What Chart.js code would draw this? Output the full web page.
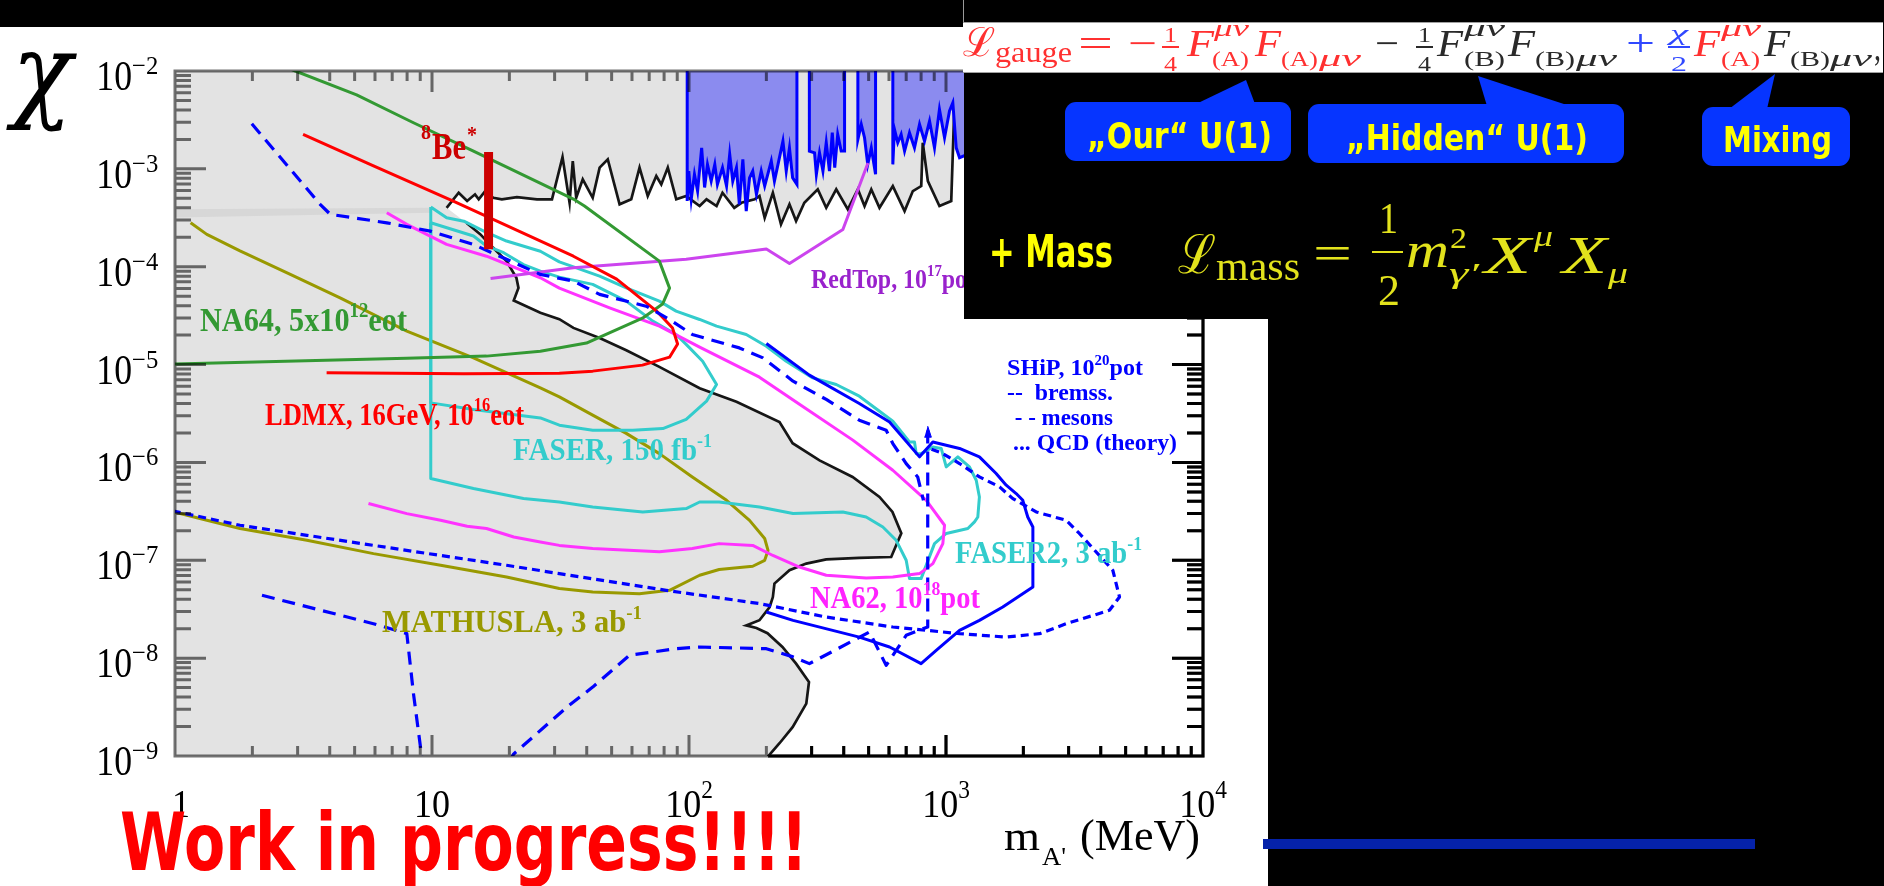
<!DOCTYPE html>
<html>
<head>
<meta charset="utf-8">
<script src="https://cdn.jsdelivr.net/npm/chart.js@4.4.0/dist/chart.umd.min.js"></script>
<style>
  html, body { margin: 0; padding: 0; background: #000; width: 1884px; height: 886px; overflow: hidden; }
  #page { position: relative; width: 1884px; height: 886px; }
  #sheet { position: absolute; left: 0; top: 27px; width: 1268px; height: 859px; background: #fff; z-index: 0; }
  #plot { position: absolute; left: 0; top: 0; z-index: 1; }
  #panel { position: absolute; left: 964px; top: 0; width: 920px; height: 319px; background: #000; z-index: 2; }
  #edge { position: absolute; left: 963px; top: 0; width: 1px; height: 22px; background: #9a9a9a; z-index: 3; }
  #strip { position: absolute; left: 963px; top: 22px; width: 920px; height: 51px; background: #fff;
           border-top: 1px solid #a0a0a0; border-bottom: 1px solid #a0a0a0; box-sizing: border-box; z-index: 3; }
  #bubbles { position: absolute; left: 0; top: 0; z-index: 3; }
  #bar { position: absolute; left: 1263px; top: 839px; width: 492px; height: 10px; background: #0522aa; z-index: 3; }
  #layer { position: absolute; left: 0; top: 0; width: 1884px; height: 886px; z-index: 4; }
  .fracbar { position: absolute; height: 2px; }
</style>
</head>
<body>
<div id="page">
  <div id="sheet"></div>
  <canvas id="plot" width="1884" height="886"></canvas>
  <div id="panel"></div>
  <div id="edge"></div>
  <div id="strip"></div>
  <svg id="bubbles" width="1884" height="886">
    <g fill="#0635ff">
      <rect x="1065" y="102" width="226" height="59" rx="11"/>
      <polygon points="1196,104 1255,104 1246,80"/>
      <rect x="1308" y="104" width="316" height="59" rx="11"/>
      <polygon points="1487,106 1570,106 1478,76"/>
      <rect x="1702" y="107" width="148" height="59" rx="11"/>
      <polygon points="1729,109 1767,109 1775,74"/>
    </g>
  </svg>
  <div id="bar"></div>
  <div id="layer"></div>
</div>
<script>
// ---------- axis ticks ----------
const massDecades = [1, 10, 100, 1000, 10000];
const massTickLabels = [['1', ''], ['10', ''], ['10', '2'], ['10', '3'], ['10', '4']];
const chiDecades = [1e-2, 1e-3, 1e-4, 1e-5, 1e-6, 1e-7, 1e-8, 1e-9];
const chiTickLabels = ['\u22122', '\u22123', '\u22124', '\u22125', '\u22126', '\u22127', '\u22128', '\u22129'];

// ---------- regions and curves: [mass (MeV), chi] ----------
// allowed (white) window between the upper exclusion and the beam-dump limits
const allowedWindow = [
  [11.4,4.00e-4],[12.7,5.70e-4],[13.7,4.69e-4],[14.7,5.49e-4],[15.2,4.88e-4],[16.1,5.93e-4],
  [17.3,5.06e-4],[18.7,4.88e-4],[21.4,5.15e-4],[25.6,4.88e-4],[29.3,4.88e-4],[32.2,1.32e-3],
  [34.3,4.50e-4],[35.3,1.20e-3],[36.4,5.06e-4],[38.6,7.81e-4],[42.2,5.06e-4],[44.9,1.03e-3],
  [48.3,1.25e-3],[53.7,4.34e-4],[59.6,4.88e-4],[64.2,1.03e-3],[69.1,5.27e-4],[74.6,8.44e-4],
  [78.0,6.94e-4],[82.7,1.03e-3],[89.2,4.88e-4],[97.5,5.27e-4],[110,4.17e-4],[117,4.88e-4],
  [128,4.17e-4],[135,5.70e-4],[150,4.00e-4],[160,4.50e-4],[180,4.88e-4],[188,5.27e-4],
  [197,3.16e-4],[212,5.70e-4],[228,2.71e-4],[246,4.34e-4],[261,2.93e-4],[281,4.50e-4],
  [317,6.17e-4],[342,4.00e-4],[374,6.17e-4],[415,3.85e-4],[454,6.17e-4],[482,4.17e-4],
  [512,6.17e-4],[551,4.00e-4],[621,6.67e-4],[690,3.70e-4],[743,5.93e-4],[801,6.67e-4],
  [812,1.85e-3],[850,7.50e-4],[943,4.17e-4],[1048,4.69e-4],[1079,4.74e-3],[1129,2.08e-3],
  [1413,1.23e-3],[2312,8.65e-4],[3960,7.68e-4],[10600,6.82e-4],[10600,5e-10],[203,5e-10],
  [203,9.9e-10],[225,1.35e-9],[253,1.97e-9],[286,3.43e-9],[293,5.70e-9],[261,8.79e-9],
  [231,1.30e-8],[202,1.80e-8],[183,2.03e-8],[167,2.16e-8],[188,2.44e-8],[206,3.33e-8],
  [212,4.21e-8],[215,5.78e-8],[246,7.91e-8],[286,9.25e-8],[342,1.02e-7],[460,1.06e-7],
  [612,1.08e-7],[670,1.89e-7],[619,3.12e-7],[551,4.44e-7],[433,7.11e-7],[322,1.05e-6],
  [253,1.57e-6],[225,2.59e-6],[153,4.16e-6],[110,5.74e-6],[76.7,9.48e-6],[57.0,1.40e-5],
  [44.9,1.87e-5],[35.5,2.37e-5],[31.3,2.91e-5],[26.4,3.38e-5],[20.8,4.52e-5],[21.7,6.08e-5],
  [21.3,7.70e-5],[19.5,1.14e-4],[17.3,1.56e-4],[15.4,2.15e-4],[13.6,2.81e-4]
];
const faintBand = [[0.9,3.85e-4],[9.89,4.0e-4],[9.89,3.56e-4],[0.9,3.16e-4]];
const blueExcluded = [
  [98.4,2e-2],[98.4,4.69e-4],[99.8,9.5e-4],[102,4.88e-4],[105,8.79e-4],[108,5.93e-4],[112,1.64e-3],
  [115,6.45e-4],[118,1.11e-3],[122,7.50e-4],[126,1.11e-3],[129,6.94e-4],[135,1.03e-3],[140,6.67e-4],
  [144,1.41e-3],[148,7.50e-4],[153,1.03e-3],[157,4.34e-4],[162,1.25e-3],[167,3.70e-4],[172,8.10e-4],
  [177,9.50e-4],[183,5.49e-4],[191,9.50e-4],[197,6.67e-4],[209,1.20e-3],[215,7.50e-4],[222,1.11e-3],
  [232,1.92e-3],[239,9.50e-4],[246,1.64e-3],[253,8.10e-4],[263,6.94e-4],[263,2e-2],
  [294,2e-2],[294,1.52e-3],[308,1.46e-3],[313,8.79e-4],[322,1.46e-3],[332,9.50e-4],[342,1.85e-3],
  [352,9.50e-4],[361,2.34e-3],[369,1.03e-3],[379,2.25e-3],[391,1.52e-3],[403,1.52e-3],[403,2e-2],
  [454,2e-2],[454,2.00e-3],[468,2.85e-3],[482,2.08e-3],[496,1.11e-3],[512,1.64e-3],[532,8.79e-4],[532,2e-2],
  [621,2e-2],[621,1.11e-3],[630,2.54e-3],[649,1.85e-3],[669,2.25e-3],[690,1.52e-3],[721,2.34e-3],
  [754,1.64e-3],[789,2.85e-3],[825,1.92e-3],[863,3.08e-3],[902,1.64e-3],[943,4.06e-3],[987,2.08e-3],
  [1032,3.90e-3],[1063,4.74e-3],[1096,1.64e-3],[1129,1.30e-3],[1600,1.9e-3],[2600,1.3e-3],
  [4500,2.2e-3],[10600,1.6e-3],[10600,2e-2]
];
const na64 = [
  [1.95,1.53e-2],[2.94,1e-2],[5.09,5.69e-3],[8.47,2.96e-3],[14.5,1.52e-3],[35.5,4.91e-4],[39.2,4.17e-4],
  [76.7,1.14e-4],[84.0,6.04e-5],[78.9,4.15e-5],[65.9,2.98e-5],[39.9,1.66e-5],[26.4,1.37e-5],
  [16.3,1.22e-5],[7.96,1.16e-5],[0.98,1.01e-5]
];
const ldmx = [
  [3.15,2.25e-3],[5.92,1.07e-3],[12.1,4.69e-4],[35.5,1.28e-4],[52.3,7.46e-5],[74.8,3.52e-5],
  [86.3,2.36e-5],[90.3,1.62e-5],[84.0,1.19e-5],[65.9,9.87e-6],[42.2,8.57e-6],[31.3,8.17e-6],
  [13.3,8.04e-6],[3.89,8.23e-6]
];
const be8 = [[16.6,1.51e-4],[16.6,1.49e-3]];
const mathusla = [
  [1.15,2.81e-4],[1.33,2.14e-4],[1.79,1.45e-4],[2.81,8.34e-5],[4.39,4.81e-5],[7.98,2.20e-5],
  [14.5,1.17e-5],[26.4,5.78e-6],[31.3,4.68e-6],[42.2,3.04e-6],[57.0,1.98e-6],[76.7,1.23e-6],
  [103,7.11e-7],[140,4.10e-7],[172,2.56e-7],[197,1.67e-7],[203,1.26e-7],[197,1.00e-7],[177,8.69e-8],
  [131,8.04e-8],[110,7.03e-8],[84.0,4.93e-8],[64.1,4.56e-8],[42.2,4.74e-8],[31.3,5.14e-8],
  [19.5,6.75e-8],[10.8,8.89e-8],[5.92,1.17e-7],[3.26,1.60e-7],[1.79,2.11e-7],[1.25,2.67e-7],[0.986,3.12e-7]
];
const faser2 = [
  [9.89,4.07e-4],[11.4,3.16e-4],[13.3,2.92e-4],[15.9,2.31e-4],[19.5,1.83e-4],[26.4,1.44e-4],
  [31.3,1.12e-4],[44.9,8.01e-5],[57.0,6.08e-5],[76.7,4.45e-5],[89.1,3.52e-5],[110,2.89e-5],
  [128,2.47e-5],[167,2.03e-5],[200,1.54e-5],[239,1.08e-5],[303,7.31e-6],[374,6.26e-6],
  [460,4.75e-6],[551,3.34e-6],[621,2.64e-6],[721,1.62e-6],[754,1.62e-6],[766,1.23e-6],
  [801,1.23e-6],[889,1.44e-6],[958,1.39e-6],[1002,9.00e-7],[1112,1.14e-6],[1234,9.00e-7],
  [1311,6.58e-7],[1349,4.44e-7],[1330,2.77e-7],[1291,2.47e-7],[1216,2.11e-7],[1002,1.88e-7],
  [902,1.48e-7],[800,6.50e-8],[721,6.50e-8],[700,1.00e-7],[640,1.60e-7],[568,2.19e-7],
  [489,2.77e-7],[397,3.12e-7],[254,3.00e-7],[188,3.51e-7],[131,3.94e-7],[110,3.94e-7],
  [97.5,3.38e-7],[66.1,3.12e-7],[42.2,3.51e-7],[31.3,3.94e-7],[22.7,4.27e-7],[14.5,5.41e-7],
  [9.89,6.84e-7],[9.89,4.07e-4]
];
const faser = [
  [9.89,2.81e-4],[14.5,2.06e-4],[16.3,1.63e-4],[19.0,1.39e-4],[22.7,1.05e-4],[26.4,9.01e-5],
  [31.3,7.83e-5],[42.2,6.60e-5],[57.0,4.45e-5],[72.3,2.78e-5],[89.1,2.03e-5],[97.5,1.61e-5],
  [113,1.08e-5],[128,6.26e-6],[117,4.23e-6],[97.5,2.75e-6],[79.1,2.22e-6],[60.4,2.13e-6],
  [42.2,2.13e-6],[31.3,2.40e-6],[26.4,2.85e-6],[14.5,3.48e-6],[9.89,4.06e-6],[9.89,2.81e-4]
];
const na62 = [
  [6.67,3.56e-4],[7.98,2.71e-4],[11.4,1.69e-4],[16.3,1.28e-4],[26.4,7.71e-5],[31.3,6.04e-5],
  [49.1,3.80e-5],[76.7,2.47e-5],[110,1.51e-5],[188,7.43e-6],[269,3.94e-6],[434,1.69e-6],
  [621,8.32e-7],[838,4.10e-7],[987,2.28e-7],[972,1.48e-7],[889,9.25e-8],[789,7.31e-8],
  [621,6.75e-8],[489,6.59e-8],[342,7.03e-8],[269,8.53e-8],[212,1.12e-7],[177,1.42e-7],
  [131,1.48e-7],[103,1.32e-7],[76.7,1.22e-7],[42.2,1.32e-7],[31.3,1.42e-7],[26.4,1.54e-7],
  [20.8,1.73e-7],[16.3,2.11e-7],[13.7,2.23e-7],[10.8,2.56e-7],[7.98,3.00e-7],[5.66,3.80e-7]
];
const redTop = [[16.9,7.59e-5],[35.5,9.75e-5],[97.5,1.19e-4],[200,1.52e-4],[246,1.08e-4],[397,2.40e-4],[497,1.15e-3]];
const shipBremss = [
  [200,1.64e-5],[294,7.80e-6],[460,4.00e-6],[603,2.59e-6],[789,1.14e-6],[889,1.62e-6],[1129,1.39e-6],
  [1349,1.14e-6],[1567,7.71e-7],[1715,5.85e-7],[1875,4.81e-7],[1990,4.10e-7],[2080,2.77e-7],
  [2178,2.19e-7],[2178,5.33e-8],[1663,3.33e-8],[1349,2.43e-8],[1129,1.92e-8],[916,1.20e-8],
  [800,8.79e-9],[603,1.30e-8],[460,1.64e-8],[254,2.43e-8],[200,2.96e-8]
];
const shipMesonsUpper = [
  [1.99,2.89e-3],[3.67,4.34e-4],[4.02,3.43e-4],[6.67,2.81e-4],[9.84,2.31e-4],[14.5,1.69e-4],
  [19.5,1.19e-4],[26.4,8.34e-5],[35.5,7.13e-5],[44.9,5.21e-5],[68.1,3.95e-5],[84.0,2.89e-5],
  [103,2.03e-5],[157,1.48e-5],[194,1.17e-5],[254,6.77e-6],[342,4.40e-6],[460,2.70e-6],
  [585,2.13e-6],[621,1.56e-6],[700,9.73e-7],[776,7.11e-7],[817,4.10e-7]
];
const shipMesonsLeft = [[2.18,4.39e-8],[5.92,2.25e-8],[7.98,1.78e-8],[8.10,1.25e-8],[8.47,4.34e-9],[9.12,9.9e-10],[9.3,6e-10]];
const shipMesonsLower = [
  [19.9,8.6e-10],[20.8,1.05e-9],[33.5,3.16e-9],[42.2,5.06e-9],[58.7,1.07e-8],[89.1,1.25e-8],
  [110,1.30e-8],[200,1.25e-8],[254,1.03e-8],[294,8.79e-9],[504,1.85e-8],[585,8.43e-9],
  [700,1.71e-8],[812,2.00e-8],[849,2.08e-8],[849,2.13e-6]
];
const shipArrow = [[824,1.81e-6],[877,1.81e-6],[849,2.35e-6]];
const shipQCD = [
  [0.98,3.2e-7],[1.79,2.28e-7],[3.26,1.80e-7],[5.92,1.42e-7],[10.8,1.12e-7],[19.5,8.89e-8],
  [31.3,7.31e-8],[81.5,4.93e-8],[188,3.61e-8],[342,2.63e-8],[621,2.08e-8],[1129,1.78e-8],
  [1715,1.64e-8],[2312,1.78e-8],[2938,2.25e-8],[4326,3.08e-8],[4733,4.22e-8],[4457,7.91e-8],
  [3304,1.88e-7],[2938,2.56e-7],[2244,3.12e-7],[1820,4.27e-7],[1616,5.62e-7],[1349,7.11e-7],
  [1129,9.75e-7],[973,1.23e-6],[862,1.39e-6]
];

const pts = arr => arr.map(([x, y]) => ({x, y}));

// drawn bottom to top
const layers = [
  {data: pts(allowedWindow), fill: 'shape', backgroundColor: '#ffffff', borderColor: '#161616', borderWidth: 2.7, borderJoinStyle: 'miter'},
  {data: pts(faintBand), fill: 'shape', backgroundColor: '#d7d7d7', borderColor: 'rgba(0,0,0,0)', borderWidth: 0},
  {data: pts(blueExcluded), fill: 'shape', backgroundColor: '#8b8bef', borderColor: '#0000ff', borderWidth: 3, borderJoinStyle: 'miter'},
  {data: pts(mathusla), borderColor: '#999900', borderWidth: 3},
  {data: pts(faser2), borderColor: '#33cccc', borderWidth: 3},
  {data: pts(faser), borderColor: '#33cccc', borderWidth: 3},
  {data: pts(na62), borderColor: '#ff33ff', borderWidth: 3},
  {data: pts(redTop), borderColor: '#cc44ee', borderWidth: 3},
  {data: pts(na64), borderColor: '#339933', borderWidth: 3},
  {data: pts(ldmx), borderColor: '#ff0000', borderWidth: 3},
  {data: pts(shipBremss), borderColor: '#0000ff', borderWidth: 3},
  {data: pts(shipMesonsUpper), borderColor: '#0000ff', borderWidth: 3.2, borderDash: [13, 8]},
  {data: pts(shipMesonsLeft), borderColor: '#0000ff', borderWidth: 3.2, borderDash: [13, 8]},
  {data: pts(shipMesonsLower), borderColor: '#0000ff', borderWidth: 3.2, borderDash: [13, 8]},
  {data: pts(shipArrow), fill: 'shape', backgroundColor: '#0000ff', borderColor: '#0000ff', borderWidth: 1},
  {data: pts(shipQCD), borderColor: '#0000ff', borderWidth: 3.2, borderDash: [8, 5]},
  {data: pts(be8), borderColor: '#cc0000', borderWidth: 9, borderCapStyle: 'butt'}
];
const datasets = layers.map((d, i) => Object.assign({
  showLine: true, pointRadius: 0, pointHoverRadius: 0, tension: 0, fill: false,
  clip: 0, borderJoinStyle: 'round', order: layers.length - i
}, d));

const SERIF = '"Liberation Serif", "Times New Roman", serif';
const GREEK = '"DejaVu Serif", "Liberation Serif", serif';

function drawRich(ctx, parts, x, base, size, color, o) {
  o = o || {};
  const fam = o.family || SERIF;
  const pre = (o.italic ? 'italic ' : '') + (o.bold ? 'bold ' : '');
  const supSize = size * (o.supScale || 0.62);
  const raise = size * (o.raise || 0.43);
  const widths = [];
  let w = 0;
  parts.forEach(([t, k]) => {
    ctx.font = pre + (k ? supSize : size) + 'px ' + fam;
    const m = ctx.measureText(t).width;
    widths.push(m); w += m;
  });
  let sx = o.scale || 1;
  if (o.x1) sx = (o.x1 - x) / w;
  let x0 = x;
  if (o.align === 'center') x0 = x - w * sx / 2;
  if (o.align === 'right') x0 = x - w * sx;
  ctx.save();
  ctx.fillStyle = color;
  ctx.textAlign = 'left';
  ctx.textBaseline = 'alphabetic';
  ctx.translate(x0, 0);
  ctx.scale(sx, 1);
  let cx = 0;
  parts.forEach(([t, k], i) => {
    ctx.font = pre + (k ? supSize : size) + 'px ' + fam;
    const yy = k === 1 ? base - raise : (k === 2 ? base + size * 0.3 : base);
    ctx.fillText(t, cx, yy);
    cx += widths[i];
  });
  ctx.restore();
}

const seriesLabels = [
  // parts, left, right, baseline, size, colour
  [[['NA64, 5x10', 0], ['12', 1], ['eot', 0]], 200, 407, 331, 33, '#339933'],
  [[['LDMX, 16GeV, 10', 0], ['16', 1], ['eot', 0]], 265, 524, 425, 32, '#ff0000'],
  [[['FASER, 150 fb', 0], ['-1', 1]], 513, 712, 460, 31, '#33cccc'],
  [[['MATHUSLA, 3 ab', 0], ['-1', 1]], 382, 642, 632, 31, '#999900'],
  [[['NA62, 10', 0], ['18', 1], ['pot', 0]], 810, 980, 608, 31, '#ff22ff'],
  [[['FASER2, 3 ab', 0], ['-1', 1]], 955, 1142, 563, 31, '#33cccc'],
  [[['RedTop, 10', 0], ['17', 1], ['pot', 0]], 811, 975, 288, 27, '#9922cc'],
  [[['SHiP, 10', 0], ['20', 1], ['pot', 0]], 1007, 1143, 375, 23, '#0000ff'],
  [[['--  bremss.', 0]], 1007, 1113, 400, 23, '#0000ff'],
  [[[' - - mesons', 0]], 1009, 1113, 425, 23, '#0000ff'],
  [[['... QCD (theory)', 0]], 1013, 1177, 450, 23, '#0000ff']
];

const frameTicks = {
  id: 'frameTicks',
  beforeDatasetsDraw(chart) {
    const {ctx, chartArea: a} = chart;
    ctx.save();
    ctx.fillStyle = '#e3e3e3';
    ctx.fillRect(a.left, a.top, a.right - a.left, a.bottom - a.top);
    ctx.restore();
  },
  afterDatasetsDraw(chart) {
    const {ctx, chartArea: a, scales: {x, y}} = chart;
    const p = new Path2D();
    p.rect(a.left, a.top, a.right - a.left, a.bottom - a.top);
    for (let i = 0; i < massDecades.length; i++) {
      const d = massDecades[i];
      const px = x.getPixelForValue(d);
      p.moveTo(px, a.top); p.lineTo(px, a.top + 21);
      p.moveTo(px, a.bottom); p.lineTo(px, a.bottom - 21);
      if (i < massDecades.length - 1) {
        for (let k = 2; k <= 9; k++) {
          const q = x.getPixelForValue(k * d);
          p.moveTo(q, a.top); p.lineTo(q, a.top + 10);
          p.moveTo(q, a.bottom); p.lineTo(q, a.bottom - 10);
        }
      }
    }
    for (let i = 0; i < chiDecades.length; i++) {
      const d = chiDecades[i];
      const py = y.getPixelForValue(d);
      p.moveTo(a.left, py); p.lineTo(a.left + 31, py);
      p.moveTo(a.right, py); p.lineTo(a.right - 31, py);
      if (i > 0) {
        for (let k = 2; k <= 9; k++) {
          const q = y.getPixelForValue(k * d);
          p.moveTo(a.left, q); p.lineTo(a.left + 16, q);
          p.moveTo(a.right, q); p.lineTo(a.right - 16, q);
        }
      }
    }
    ctx.save();
    ctx.lineWidth = 3;
    ctx.strokeStyle = 'rgba(0,0,0,0.55)';
    ctx.stroke(p);
    const win = new Path2D();
    allowedWindow.forEach(([m, c], i) => {
      const px = x.getPixelForValue(m), py = y.getPixelForValue(c);
      if (i) win.lineTo(px, py); else win.moveTo(px, py);
    });
    win.closePath();
    ctx.clip(win);
    ctx.strokeStyle = '#000';
    ctx.stroke(p);
    ctx.restore();
  },
  afterDraw(chart) {
    const {ctx, scales: {x, y}} = chart;
    // tick labels
    chiDecades.forEach((d, i) => {
      const py = y.getPixelForValue(d);
      drawRich(ctx, [['10', 0]], 132, py + 19, 42, '#000', {align: 'right', scale: 0.85});
      drawRich(ctx, [[chiTickLabels[i], 0]], 132, py + 3, 26, '#000', {scale: 0.95});
    });
    massDecades.forEach((d, i) => {
      const px = x.getPixelForValue(d);
      const [b, e] = massTickLabels[i];
      const parts = e ? [[b, 0], [e, 1]] : [[b, 0]];
      drawRich(ctx, parts, i === 0 ? px + 6 : px, 817, 40, '#000', {align: 'center', scale: 0.9, raise: 0.48, supScale: 0.65});
    });
    // axis titles
    drawRich(ctx, [['\u03c7', 0]], 12, 108, 104, '#000', {italic: true, family: GREEK, x1: 72});
    drawRich(ctx, [['m', 0]], 1004, 850, 42, '#000', {x1: 1040});
    drawRich(ctx, [['A\'', 0]], 1042, 865, 26, '#000', {x1: 1066});
    drawRich(ctx, [['(MeV)', 0]], 1080, 850, 44, '#000', {x1: 1200});
    // curve labels
    seriesLabels.forEach(([parts, x0, x1, base, size, color]) => {
      drawRich(ctx, parts, x0, base, size, color, {bold: true, x1: x1});
    });
    drawRich(ctx, [['8', 0]], 421, 139, 21, '#cc0000', {bold: true, x1: 431});
    drawRich(ctx, [['Be', 0]], 432, 159, 38, '#cc0000', {bold: true, x1: 466});
    drawRich(ctx, [['*', 0]], 467, 142, 24, '#cc0000', {bold: true, x1: 477});
  }
};

new Chart(document.getElementById('plot'), {
  type: 'scatter',
  data: {datasets},
  options: {
    responsive: false,
    animation: false,
    devicePixelRatio: 1,
    events: [],
    layout: {padding: {left: 175, top: 71, right: 681, bottom: 130}},
    scales: {
      x: {type: 'logarithmic', min: 1, max: 10000, display: false},
      y: {type: 'logarithmic', min: 1e-9, max: 1e-2, display: false}
    },
    plugins: {legend: {display: false}, tooltip: {enabled: false}}
  },
  plugins: [frameTicks]
});

// ---------- Lagrangian panel ----------
const layer = document.getElementById('layer');
const COMIC = '"DejaVu Sans", "Liberation Sans", sans-serif';
function put(text, x0, x1, base, size, color, o) {
  o = o || {};
  const s = document.createElement('span');
  s.style.cssText = 'position:absolute;left:' + x0 + 'px;top:0;white-space:nowrap;line-height:1;' +
    'font-size:' + size + 'px;color:' + color + ';font-family:' + (o.fam || SERIF) + ';' +
    'font-style:' + (o.it ? 'italic' : 'normal') + ';font-weight:' + (o.b ? 'bold' : 'normal') + ';transform-origin:0 0;';
  s.textContent = text;
  const probe = document.createElement('i');
  probe.style.cssText = 'display:inline-block;width:0;height:0;vertical-align:baseline;';
  s.appendChild(probe);
  layer.appendChild(s);
  s.style.top = (base - probe.offsetTop) + 'px';
  if (x1) {
    const w = s.getBoundingClientRect().width;
    s.style.transform = 'scaleX(' + ((x1 - x0) / w) + ')';
  }
}
function fracBar(x0, x1, y, color) {
  const b = document.createElement('div');
  b.className = 'fracbar';
  b.style.left = x0 + 'px'; b.style.width = (x1 - x0) + 'px'; b.style.top = y + 'px'; b.style.background = color;
  layer.appendChild(b);
}
const RED = '#ff3030', DARK = '#2a2a2a', BLUE = '#3048ff', YEL = '#e2e21c';
const gaugeTokens = [
  ['\u2112', 963, 995, 56, 40, RED, 0], ['gauge', 995, 1072, 62, 30, RED, 0],
  ['=', 1078, 1113, 56, 38, RED, 0], ['\u2212', 1128, 1157, 56, 38, RED, 0],
  ['1', 1164, 1177, 42, 22, RED, 0], ['4', 1164, 1177, 71, 22, RED, 0],
  ['F', 1187, 1214, 56, 38, RED, 1], ['\u03bc\u03bd', 1214, 1249, 36, 24, RED, 1], ['(A)', 1212, 1249, 66, 21, RED, 0],
  ['F', 1255, 1281, 56, 38, RED, 1], ['(A)', 1281, 1318, 66, 21, RED, 0], ['\u03bc\u03bd', 1319, 1361, 66, 24, RED, 1],
  ['\u2212', 1375, 1399, 56, 38, DARK, 0],
  ['1', 1418, 1431, 42, 22, DARK, 0], ['4', 1418, 1431, 71, 22, DARK, 0],
  ['F', 1437, 1463, 56, 38, DARK, 1], ['\u03bc\u03bd', 1464, 1505, 36, 24, DARK, 1], ['(B)', 1464, 1505, 66, 21, DARK, 0],
  ['F', 1508, 1535, 56, 38, DARK, 1], ['(B)', 1535, 1575, 66, 21, DARK, 0], ['\u03bc\u03bd', 1576, 1617, 66, 24, DARK, 1],
  ['+', 1626, 1655, 56, 38, BLUE, 0],
  ['\u03c7', 1670, 1688, 40, 22, BLUE, 1], ['2', 1671, 1687, 71, 22, BLUE, 0],
  ['F', 1694, 1720, 56, 38, RED, 1], ['\u03bc\u03bd', 1721, 1761, 36, 24, RED, 1], ['(A)', 1721, 1760, 66, 21, RED, 0],
  ['F', 1764, 1790, 56, 38, DARK, 1], ['(B)', 1790, 1830, 66, 21, DARK, 0], ['\u03bc\u03bd', 1830, 1872, 66, 24, DARK, 1],
  [',', 1874, 1881, 60, 38, DARK, 0]
];
const massTokens = [
  ['\u2112', 1178, 1216, 273, 54, YEL, 0], ['mass', 1216, 1300, 280, 40, YEL, 0],
  ['=', 1313, 1352, 270, 50, YEL, 0],
  ['1', 1379, 1398, 233, 44, YEL, 0], ['2', 1378, 1400, 305, 44, YEL, 0],
  ['m', 1406, 1449, 267, 50, YEL, 1], ['2', 1450, 1467, 248, 30, YEL, 0], ['\u03b3\u2032', 1449, 1479, 283, 30, YEL, 1],
  ['X', 1484, 1531, 273, 52, YEL, 1], ['\u03bc', 1534, 1553, 246, 30, YEL, 1],
  ['X', 1562, 1607, 273, 52, YEL, 1], ['\u03bc', 1608, 1628, 283, 30, YEL, 1]
];
function buildPanel() {
  gaugeTokens.concat(massTokens).forEach(([t, x0, x1, b, s, c, it]) => put(t, x0, x1, b, s, c, {it: !!it}));
  fracBar(1162, 1179, 46, RED);
  fracBar(1416, 1433, 46, DARK);
  fracBar(1668, 1690, 46, BLUE);
  fracBar(1372, 1403, 251, YEL);
  put('\u201eOur\u201c U(1)', 1087, 1272, 148, 36, '#ffff00', {fam: COMIC, b: true});
  put('\u201eHidden\u201c U(1)', 1346, 1588, 150, 36, '#ffff00', {fam: COMIC, b: true});
  put('Mixing', 1723, 1832, 152, 36, '#ffff00', {fam: COMIC, b: true});
  put('+ Mass', 989, 1113, 267, 44, '#ffff00', {fam: COMIC, b: true});
  put('Work in progress!!!!', 120, 808, 870, 80, '#ff0000', {fam: COMIC, b: true});
}
buildPanel();
</script>
</body>
</html>
